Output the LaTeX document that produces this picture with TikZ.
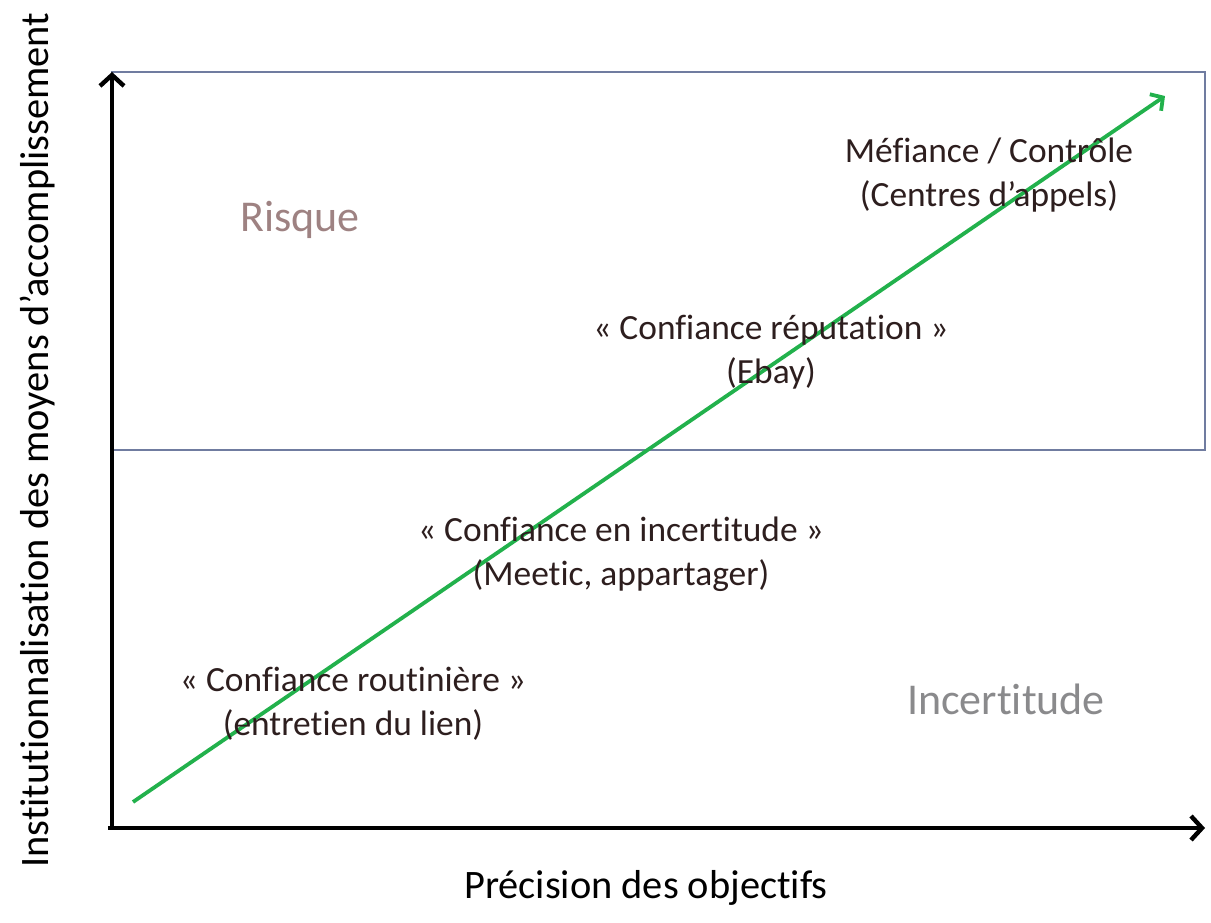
\documentclass[tikz,border=0pt]{standalone}
\usepackage{fontspec}
\setmainfont{Carlito}[Ligatures=NoCommon]
\usetikzlibrary{arrows.meta}

\definecolor{framecol}{RGB}{112,124,160}
\definecolor{trendgreen}{RGB}{34,177,76}
\definecolor{riskcol}{RGB}{158,130,130}
\definecolor{uncertcol}{RGB}{138,138,140}
\definecolor{labelcol}{RGB}{45,30,30}

\begin{document}
\begin{tikzpicture}[
  x=0.5pt, y=-0.5pt,
  axis/.style={line width=2.2pt, -{Straight Barb[length=5.5pt,width=12pt]}},
  trend/.style={trendgreen, line width=1.9pt, -{Straight Barb[length=4.5pt,width=10pt]}},
  zone/.style={font=\fontsize{22}{26}\selectfont},
  example/.style={labelcol, align=center, font=\fontsize{17.7}{22}\selectfont},
  axislabel/.style={font=\fontsize{20.2}{24}\selectfont}
]
\useasboundingbox (0,0) rectangle (1211,922);

% Axes
\coordinate (origin) at (108,828);
\coordinate (ytop) at (112,72);
\coordinate (xend) at (1205,828);

% Risk area
\draw[framecol, line width=1pt] (112,72) rectangle (1205,450);

\draw[axis] (origin -| ytop) -- (ytop);
\draw[axis] (origin) -- (xend);

% Trend
\coordinate (low) at (133,802);
\coordinate (high) at (1165,96);
\draw[trend] (low) -- (high);

% Zones
\node[zone, riskcol] (risque) at (300,220) {Risque};
\node[zone, uncertcol] (incert) at (1006,699) {Incertitude};

% Forms of trust
\node[example] (mefiance) at (989,175) {Méfiance / Contrôle\\(Centres d’appels)};
\node[example] (reputation) at (771,352) {« Confiance réputation »\\(Ebay)};
\node[example] (incertitude) at (621,554) {« Confiance en incertitude »\\(Meetic, appartager)};
\node[example] (routine) at (353,704) {« Confiance routinière »\\(entretien du lien)};

% Axis titles
\node[axislabel] (xlabel) at (646,888) {Précision des objectifs};
\node[axislabel, rotate=90] (ylabel) at (38,440) {Institutionnalisation des moyens d’accomplissement};
\end{tikzpicture}
\end{document}
